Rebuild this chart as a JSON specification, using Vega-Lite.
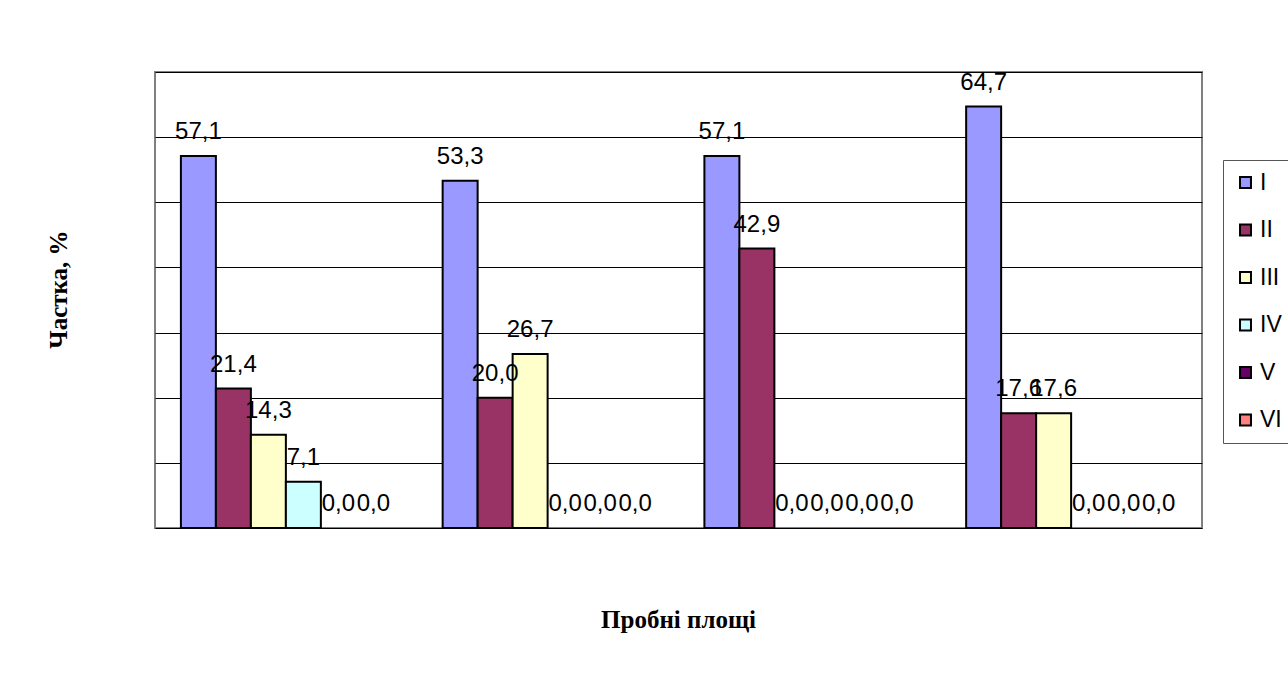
{
  "$schema": "https://vega.github.io/schema/vega-lite/v6.json",
  "autosize": "none",
  "width": 1047,
  "height": 456,
  "padding": {"left": 155, "top": 72, "right": 86, "bottom": 153},
  "background": "white",
  "config": {
    "view": {"stroke": "#808080", "strokeWidth": 2}
  },
  "data": {
    "values": [
      {"plot": "P1", "grade": "I", "value": 57.1, "label": "57,1"},
      {"plot": "P1", "grade": "II", "value": 21.4, "label": "21,4"},
      {"plot": "P1", "grade": "III", "value": 14.3, "label": "14,3"},
      {"plot": "P1", "grade": "IV", "value": 7.1, "label": "7,1"},
      {"plot": "P1", "grade": "V", "value": 0, "label": "0,0"},
      {"plot": "P1", "grade": "VI", "value": 0, "label": "0,0"},
      {"plot": "P2", "grade": "I", "value": 53.3, "label": "53,3"},
      {"plot": "P2", "grade": "II", "value": 20.0, "label": "20,0"},
      {"plot": "P2", "grade": "III", "value": 26.7, "label": "26,7"},
      {"plot": "P2", "grade": "IV", "value": 0, "label": "0,0"},
      {"plot": "P2", "grade": "V", "value": 0, "label": "0,0"},
      {"plot": "P2", "grade": "VI", "value": 0, "label": "0,0"},
      {"plot": "P3", "grade": "I", "value": 57.1, "label": "57,1"},
      {"plot": "P3", "grade": "II", "value": 42.9, "label": "42,9"},
      {"plot": "P3", "grade": "III", "value": 0, "label": "0,0"},
      {"plot": "P3", "grade": "IV", "value": 0, "label": "0,0"},
      {"plot": "P3", "grade": "V", "value": 0, "label": "0,0"},
      {"plot": "P3", "grade": "VI", "value": 0, "label": "0,0"},
      {"plot": "P4", "grade": "I", "value": 64.7, "label": "64,7"},
      {"plot": "P4", "grade": "II", "value": 17.6, "label": "17,6"},
      {"plot": "P4", "grade": "III", "value": 17.6, "label": "17,6"},
      {"plot": "P4", "grade": "IV", "value": 0, "label": "0,0"},
      {"plot": "P4", "grade": "V", "value": 0, "label": "0,0"},
      {"plot": "P4", "grade": "VI", "value": 0, "label": "0,0"}
    ]
  },
  "encoding": {
    "x": {
      "field": "plot", "type": "nominal",
      "scale": {"paddingInner": 0, "paddingOuter": 0},
      "axis": {
        "title": "Пробні площі", "labels": false, "ticks": false, "domain": false,
        "titleFont": "Liberation Serif", "titleFontSize": 25, "titleFontWeight": "bold",
        "titleColor": "black", "titleBaseline": "alphabetic", "titleY": 99, "titleX": 523
      }
    },
    "xOffset": {
      "field": "grade", "type": "nominal",
      "scale": {"paddingInner": 0, "paddingOuter": 0.74}
    },
    "y": {
      "field": "value", "type": "quantitative",
      "scale": {"domain": [0, 70], "nice": false},
      "axis": {
        "title": "Частка, %", "labels": false, "ticks": false, "domain": false,
        "values": [0, 10, 20, 30, 40, 50, 60, 70],
        "grid": true, "gridColor": "black", "gridWidth": 1, "gridOpacity": 1,
        "titleFont": "Liberation Serif", "titleFontSize": 25, "titleFontWeight": "bold",
        "titleColor": "black", "titleAngle": -90, "titleAlign": "center",
        "titleBaseline": "middle", "titleX": -97, "titleY": 217
      }
    }
  },
  "layer": [
    {
      "transform": [{"filter": "datum.value > 0"}],
      "mark": {"type": "bar", "stroke": "black", "strokeWidth": 2},
      "encoding": {
        "color": {
          "field": "grade", "type": "nominal",
          "scale": {
            "domain": ["I", "II", "III", "IV", "V", "VI"],
            "range": ["#9999FF", "#993366", "#FFFFCC", "#CCFFFF", "#660066", "#FF8080"]
          },
          "legend": {
            "title": null, "orient": "none", "legendX": 1068, "legendY": 88,
            "direction": "vertical",
            "symbolType": "square", "symbolSize": 120,
            "symbolStrokeColor": "black", "symbolStrokeWidth": 2, "symbolOpacity": 1,
            "labelFont": "Liberation Sans", "labelFontSize": 23, "labelColor": "black",
            "labelOffset": 3, "rowPadding": 23.5, "padding": 11,
            "strokeColor": "#555555"
          }
        }
      }
    },
    {
      "mark": {
        "type": "text", "font": "Liberation Sans", "fontSize": 24,
        "baseline": "alphabetic", "align": "center", "dy": -17, "color": "black"
      },
      "encoding": {
        "text": {"field": "label", "type": "nominal"}
      }
    }
  ]
}
